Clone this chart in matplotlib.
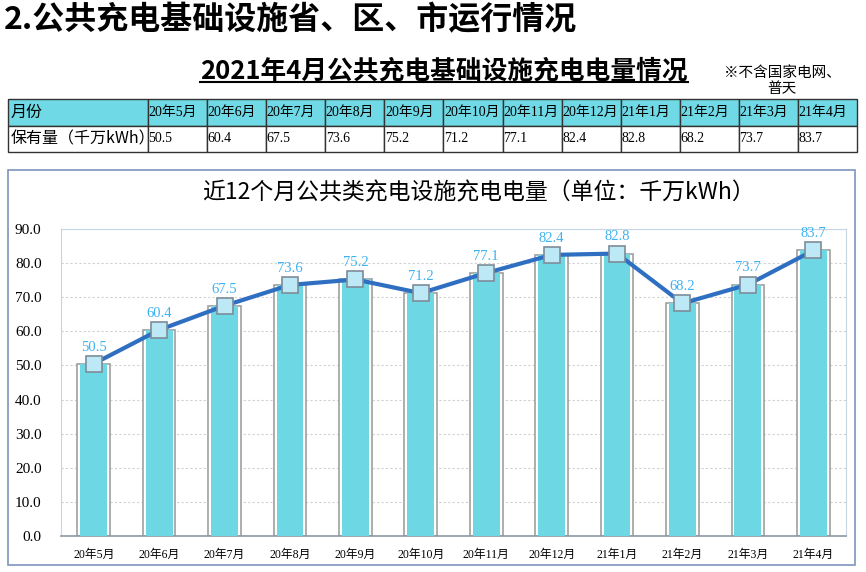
import numpy as np
import matplotlib.pyplot as plt
from matplotlib.patches import Rectangle
from matplotlib.lines import Line2D

plt.rcParams['font.family'] = ['Noto Sans CJK SC', 'DejaVu Sans']

# 数据
months = ['20年5月', '20年6月', '20年7月', '20年8月', '20年9月', '20年10月',
          '20年11月', '20年12月', '21年1月', '21年2月', '21年3月', '21年4月']
values = [50.5, 60.4, 67.5, 73.6, 75.2, 71.2, 77.1, 82.4, 82.8, 68.2, 73.7, 83.7]
yticks = [0, 10, 20, 30, 40, 50, 60, 70, 80, 90]

W, H = 866, 572
fig = plt.figure(figsize=(W / 100, H / 100), dpi=100)

serif_cjk = ['Liberation Serif', 'Noto Sans CJK SC']

# 标题
fig.text(4 / W, 1 - 20 / H, '2.公共充电基础设施省、区、市运行情况', fontsize=23,
         fontweight='bold', va='center', ha='left', color='black')
sub = fig.text(444 / W, 1 - 71 / H, '2021年4月公共充电基础设施充电电量情况', fontsize=18.5,
               fontweight='bold', va='center', ha='center', color='black')
fig.text(782 / W, 1 - 81 / H, '※不含国家电网、\n普天', fontsize=10.5, va='center',
         ha='center', multialignment='center', linespacing=1.15)

# 表格
tax = fig.add_axes([8 / W, 1 - 152 / H, 849 / W, 53 / H])
tax.axis('off')
cell_text = [['月份'] + months, ['保有量（千万kWh）'] + ['%.1f' % v for v in values]]
col_w = [140 / 849] + [709 / 849 / 12] * 12
tbl = tax.table(cellText=cell_text, colWidths=col_w, bbox=[0, 0, 1, 1], cellLoc='left')
tbl.auto_set_font_size(False)
for (r, c), cell in tbl.get_celld().items():
    cell.set_edgecolor('#333333')
    cell.set_linewidth(1.0)
    cell.PAD = 0.02
    txt = cell.get_text()
    if r == 0:
        cell.set_facecolor('#6fd9e5')
    else:
        cell.set_facecolor('white')
    if c == 0:
        txt.set_fontsize(11.5)
    else:
        txt.set_fontsize(10)
        txt.set_family(serif_cjk)
        cell.PAD = 0.01

# 图表外框
fig.patches.append(Rectangle((8 / W, 1 - 565 / H), 847 / W, 395 / H, transform=fig.transFigure,
                             fill=False, edgecolor='#7f95bd', linewidth=1.2))
fig.text(478 / W, 1 - 193 / H, '近12个月公共类充电设施充电电量（单位：千万kWh）', fontsize=16.5,
         va='center', ha='center', color='black')

ax = fig.add_axes([61 / W, 1 - 536 / H, 785 / W, 307 / H])
x = np.arange(len(months))
ax.bar(x, values, width=0.5, color='white', edgecolor='#a0a0a0', linewidth=1.2, zorder=2)
ax.bar(x, values, width=0.41, color='#6dd8e4', edgecolor='none', zorder=3)
ax.plot(x, values, color='#2f6fc2', linewidth=3, zorder=4, marker='s', markersize=11,
        markerfacecolor='#bde9f6', markeredgecolor='#7d8c99', markeredgewidth=1.2)
for xi, v in zip(x, values):
    ax.text(xi, v + 3.0, '%.1f' % v, ha='center', va='bottom', fontsize=10.5,
            color='#3cb2f0', family='Liberation Serif', zorder=5)

ax.set_xlim(-0.5, len(months) - 0.5)
ax.set_ylim(0, 90)
ax.set_yticks(yticks)
ax.set_yticklabels(['%.1f' % t for t in yticks], family='Liberation Serif', fontsize=11)
ax.set_xticks(x)
ax.set_xticklabels(months, family=serif_cjk, fontsize=8.5)
ax.tick_params(axis='both', length=0, pad=9)
ax.tick_params(axis='y', pad=14)
ax.yaxis.grid(True, linestyle=(0, (2, 2)), color='#d0d0d0', linewidth=0.8, zorder=0)
ax.set_axisbelow(True)
for s in ['top', 'right', 'left']:
    ax.spines[s].set_color('#c5d5e3')
ax.spines['bottom'].set_color('#8a9aa8')
ax.spines['bottom'].set_linewidth(1.2)

# 副标题下划线
fig.canvas.draw()
bb = sub.get_window_extent().transformed(fig.transFigure.inverted())
fig.add_artist(Line2D([bb.x0, bb.x1], [bb.y0 + 0.004, bb.y0 + 0.004], color='black',
                      linewidth=1.5, transform=fig.transFigure))

fig.savefig('out.png', dpi=100)
